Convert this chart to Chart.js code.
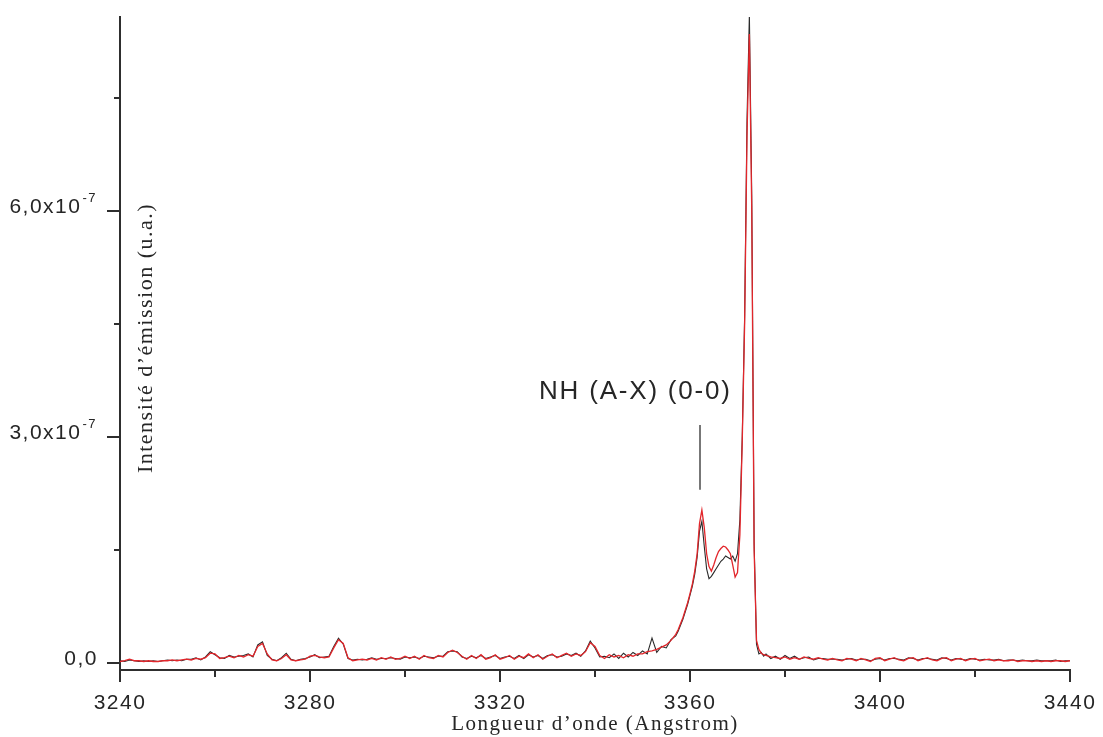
<!DOCTYPE html>
<html>
<head>
<meta charset="utf-8">
<script src="https://cdn.jsdelivr.net/npm/chart.js@4/dist/chart.umd.min.js"></script>
<style>
  html, body { margin: 0; padding: 0; background: #fff; }
  #wrap { width: 1103px; height: 737px; }
</style>
</head>
<body>
<div id="wrap"><canvas id="chart" width="1103" height="737"></canvas></div>
<script>
// wavelength (Angstrom), 1 A steps, 0.5 A across the band head
const wavelengths = [
  3240, 3241, 3242, 3243, 3244, 3245, 3246, 3247, 3248, 3249,
  3250, 3251, 3252, 3253, 3254, 3255, 3256, 3257, 3258, 3259,
  3260, 3261, 3262, 3263, 3264, 3265, 3266, 3267, 3268, 3269,
  3270, 3271, 3272, 3273, 3274, 3275, 3276, 3277, 3278, 3279,
  3280, 3281, 3282, 3283, 3284, 3285, 3286, 3287, 3288, 3289,
  3290, 3291, 3292, 3293, 3294, 3295, 3296, 3297, 3298, 3299,
  3300, 3301, 3302, 3303, 3304, 3305, 3306, 3307, 3308, 3309,
  3310, 3311, 3312, 3313, 3314, 3315, 3316, 3317, 3318, 3319,
  3320, 3321, 3322, 3323, 3324, 3325, 3326, 3327, 3328, 3329,
  3330, 3331, 3332, 3333, 3334, 3335, 3336, 3337, 3338, 3339,
  3340, 3341, 3342, 3343, 3344, 3345, 3346, 3347, 3348, 3349,
  3350, 3351, 3352, 3353, 3354, 3355, 3356, 3357,
  3357.5, 3358, 3358.5, 3359, 3359.5, 3360, 3360.5, 3361, 3361.5, 3362,
  3362.5, 3363, 3363.5, 3364, 3364.5, 3365, 3365.5, 3366, 3366.5, 3367,
  3367.5, 3368, 3368.5, 3369, 3369.5, 3370, 3370.5, 3371, 3371.5, 3372,
  3372.5, 3373, 3373.5, 3374, 3374.5, 3375, 3375.5, 3376,
  3377, 3378, 3379,
  3380, 3381, 3382, 3383, 3384, 3385, 3386, 3387, 3388, 3389,
  3390, 3391, 3392, 3393, 3394, 3395, 3396, 3397, 3398, 3399,
  3400, 3401, 3402, 3403, 3404, 3405, 3406, 3407, 3408, 3409,
  3410, 3411, 3412, 3413, 3414, 3415, 3416, 3417, 3418, 3419,
  3420, 3421, 3422, 3423, 3424, 3425, 3426, 3427, 3428, 3429,
  3430, 3431, 3432, 3433, 3434, 3435, 3436, 3437, 3438, 3439,
  3440
]

// intensities in units of 1e-7 (u.a.)
const redSpectrum = [
  0.02, 0.03, 0.05, 0.03, 0.03, 0.02, 0.03, 0.02, 0.02, 0.03,
  0.03, 0.04, 0.03, 0.04, 0.05, 0.04, 0.06, 0.05, 0.07, 0.13,
  0.12, 0.06, 0.07, 0.09, 0.07, 0.10, 0.08, 0.11, 0.09, 0.22,
  0.26, 0.12, 0.04, 0.03, 0.06, 0.11, 0.04, 0.03, 0.04, 0.05,
  0.09, 0.10, 0.08, 0.07, 0.08, 0.20, 0.31, 0.26, 0.07, 0.03,
  0.04, 0.05, 0.04, 0.06, 0.04, 0.07, 0.05, 0.08, 0.05, 0.06,
  0.09, 0.06, 0.09, 0.05, 0.10, 0.07, 0.06, 0.10, 0.08, 0.14,
  0.17, 0.14, 0.09, 0.05, 0.10, 0.06, 0.11, 0.05, 0.07, 0.11,
  0.05, 0.07, 0.10, 0.05, 0.09, 0.07, 0.12, 0.07, 0.11, 0.05,
  0.09, 0.12, 0.07, 0.10, 0.13, 0.09, 0.12, 0.10, 0.15, 0.27,
  0.22, 0.10, 0.06, 0.11, 0.08, 0.10, 0.07, 0.11, 0.09, 0.12,
  0.12, 0.15, 0.16, 0.18, 0.21, 0.24, 0.30, 0.38,
  0.44, 0.52, 0.60, 0.70, 0.80, 0.92, 1.05, 1.22, 1.45, 1.85,
  2.03, 1.80, 1.45, 1.28, 1.22, 1.30, 1.40, 1.48, 1.52, 1.55,
  1.54, 1.50, 1.45, 1.30, 1.14, 1.20, 1.70, 2.95, 4.50, 7.00,
  8.35, 6.00, 1.50, 0.30, 0.18, 0.13, 0.11, 0.10,
  0.08, 0.07, 0.06,
  0.08, 0.05, 0.07, 0.05, 0.08, 0.06, 0.05, 0.07, 0.05, 0.04,
  0.06, 0.04, 0.03, 0.06, 0.05, 0.03, 0.06, 0.04, 0.02, 0.06,
  0.07, 0.03, 0.05, 0.07, 0.04, 0.03, 0.06, 0.07, 0.03, 0.05,
  0.07, 0.04, 0.03, 0.06, 0.07, 0.03, 0.05, 0.06, 0.03, 0.05,
  0.06, 0.03, 0.04, 0.05, 0.03, 0.04, 0.03, 0.03, 0.04, 0.02,
  0.03, 0.03, 0.02, 0.03, 0.02, 0.03, 0.02, 0.03, 0.03, 0.02,
  0.03
]

const blackSpectrum = [
  0.03, 0.02, 0.04, 0.03, 0.02, 0.03, 0.02, 0.03, 0.02, 0.03,
  0.04, 0.03, 0.04, 0.03, 0.05, 0.05, 0.07, 0.04, 0.08, 0.15,
  0.11, 0.07, 0.06, 0.10, 0.08, 0.09, 0.10, 0.12, 0.08, 0.24,
  0.28, 0.10, 0.05, 0.03, 0.07, 0.13, 0.05, 0.03, 0.05, 0.06,
  0.08, 0.11, 0.07, 0.08, 0.09, 0.22, 0.33, 0.25, 0.06, 0.04,
  0.05, 0.04, 0.05, 0.07, 0.05, 0.06, 0.06, 0.07, 0.06, 0.05,
  0.08, 0.07, 0.08, 0.06, 0.09, 0.08, 0.07, 0.09, 0.09, 0.15,
  0.16, 0.15, 0.08, 0.06, 0.09, 0.07, 0.10, 0.06, 0.08, 0.10,
  0.06, 0.08, 0.09, 0.06, 0.10, 0.06, 0.11, 0.08, 0.10, 0.06,
  0.10, 0.11, 0.08, 0.09, 0.12, 0.10, 0.13, 0.09, 0.16, 0.29,
  0.20, 0.08, 0.09, 0.07, 0.12, 0.06, 0.13, 0.08, 0.14, 0.10,
  0.16, 0.12, 0.33, 0.14, 0.22, 0.20, 0.31, 0.36,
  0.42, 0.50, 0.58, 0.68, 0.78, 0.90, 1.02, 1.18, 1.40, 1.75,
  1.88, 1.55, 1.25, 1.12, 1.15, 1.20, 1.25, 1.30, 1.35, 1.38,
  1.42, 1.40, 1.38, 1.42, 1.35, 1.45, 1.90, 3.00, 4.60, 7.20,
  8.60, 6.20, 1.60, 0.25, 0.12, 0.14, 0.09, 0.12,
  0.06, 0.09, 0.05,
  0.10, 0.06, 0.09, 0.05, 0.07, 0.08, 0.04, 0.06, 0.06, 0.05,
  0.05, 0.05, 0.04, 0.05, 0.06, 0.04, 0.05, 0.05, 0.03, 0.05,
  0.06, 0.04, 0.06, 0.06, 0.05, 0.04, 0.07, 0.06, 0.04, 0.06,
  0.06, 0.05, 0.04, 0.07, 0.06, 0.04, 0.06, 0.05, 0.04, 0.06,
  0.05, 0.04, 0.05, 0.04, 0.04, 0.05, 0.03, 0.04, 0.04, 0.03,
  0.04, 0.03, 0.03, 0.04, 0.03, 0.03, 0.03, 0.04, 0.02, 0.03,
  0.03
]

const UNIT = 1e-7

// ticks
const xMajorTicks = [3240, 3280, 3320, 3360, 3400, 3440]
const xMinorTicks = [3260, 3300, 3340, 3380, 3420]
const yMajorTicks = [0, 3e-7, 6e-7]
const yMajorMantissa = ['0,0', '3,0x10', '6,0x10']
const yMajorExponent = ['', '-7', '-7']
const yMinorTicks = [1.5e-7, 4.5e-7, 7.5e-7]

// band label
const bandLabel = 'NH (A-X) (0-0)'
const bandMarker = { x: 3362.2, yFrom: 2.3e-7, yTo: 3.16e-7 }
const bandText = { x: 3348.5, y: 3.6e-7 }

const AXIS_COLOR = '#2e2e2e'
const TEXT_COLOR = '#262626'

// ticks, y labels, y title, band marker
const decorations = {
  id: 'decorations',
  beforeDraw(chart) {
    chart.ctx.letterSpacing = '1.5px'
  },
  afterDraw(chart) {
    const ctx = chart.ctx
    const xs = chart.scales.x
    const ys = chart.scales.y
    const area = chart.chartArea
    ctx.save()
    ctx.strokeStyle = AXIS_COLOR
    ctx.lineWidth = 2
    ctx.beginPath()
    xMajorTicks.forEach(v => {
      const px = Math.round(xs.getPixelForValue(v))
      ctx.moveTo(px, area.bottom); ctx.lineTo(px, area.bottom + 12)
    })
    xMinorTicks.forEach(v => {
      const px = Math.round(xs.getPixelForValue(v))
      ctx.moveTo(px, area.bottom); ctx.lineTo(px, area.bottom + 7)
    })
    yMajorTicks.forEach(v => {
      const py = Math.round(ys.getPixelForValue(v))
      ctx.moveTo(area.left, py); ctx.lineTo(area.left - 13, py)
    })
    yMinorTicks.forEach(v => {
      const py = Math.round(ys.getPixelForValue(v))
      ctx.moveTo(area.left, py); ctx.lineTo(area.left - 6, py)
    })
    ctx.stroke()

    // y tick labels with superscript exponent
    ctx.fillStyle = TEXT_COLOR
    ctx.textBaseline = 'middle'
    ctx.letterSpacing = '1.5px'
    yMajorTicks.forEach((v, i) => {
      const py = ys.getPixelForValue(v) - 4
      let right = area.left - 23
      ctx.textAlign = 'right'
      if (yMajorExponent[i]) {
        ctx.font = '13px "Liberation Sans"'
        ctx.fillText(yMajorExponent[i], right, py - 9)
        right -= ctx.measureText(yMajorExponent[i]).width + 1
      } else {
        right += 1
      }
      ctx.font = '21px "Liberation Sans"'
      ctx.fillText(yMajorMantissa[i], right, py)
    })

    // y axis title, drawn inside the plot
    ctx.save()
    ctx.translate(area.left + 26, (ys.getPixelForValue(6e-7) + ys.getPixelForValue(0)) / 2 - 99)
    ctx.rotate(-Math.PI / 2)
    ctx.textAlign = 'center'
    ctx.font = '22px "Liberation Serif"'
    ctx.fillStyle = TEXT_COLOR
    ctx.letterSpacing = '1.5px'
    ctx.fillText('Intensité d’émission (u.a.)', 0, 0)
    ctx.restore()

    // band marker
    ctx.strokeStyle = '#777'
    ctx.lineWidth = 2
    ctx.beginPath()
    const mx = Math.round(xs.getPixelForValue(bandMarker.x))
    ctx.moveTo(mx, ys.getPixelForValue(bandMarker.yTo))
    ctx.lineTo(mx, ys.getPixelForValue(bandMarker.yFrom))
    ctx.stroke()

    ctx.fillStyle = TEXT_COLOR
    ctx.font = '26px "Liberation Sans"'
    ctx.letterSpacing = '1.8px'
    ctx.textAlign = 'center'
    ctx.fillText(bandLabel, xs.getPixelForValue(bandText.x), ys.getPixelForValue(bandText.y))
    ctx.restore()
  }
}

const chart = document.querySelector('#chart').getContext('2d')

new Chart(chart, {
  type: 'line',
  data: {
    datasets: [
      {
        label: 'red',
        data: wavelengths.map((w, i) => ({ x: w, y: redSpectrum[i] * UNIT })),
        borderColor: '#e2262b',
        borderWidth: 1.3
      },
      {
        label: 'black',
        data: wavelengths.map((w, i) => ({ x: w, y: blackSpectrum[i] * UNIT })),
        borderColor: '#2b2b2b',
        borderWidth: 1.1
      }
    ]
  },
  options: {
    responsive: false,
    animation: false,
    devicePixelRatio: 1,
    layout: { padding: { top: 17, right: 33, left: 0, bottom: 0 } },
    elements: { point: { radius: 0 }, line: { tension: 0 } },
    plugins: { legend: { display: false }, tooltip: { enabled: false } },
    scales: {
      x: {
        type: 'linear',
        min: 3240,
        max: 3440,
        afterFit: s => {
          s.height = 67
          s.paddingLeft = 0
          s.paddingRight = 0
        },
        grid: { display: false, drawTicks: false },
        border: { display: true, color: AXIS_COLOR, width: 2 },
        ticks: {
          stepSize: 20,
          autoSkip: false,
          maxRotation: 0,
          padding: 21,
          color: TEXT_COLOR,
          font: { family: 'Liberation Sans', size: 21 },
          callback: v => xMajorTicks.includes(v) ? String(v) : ''
        },
        title: {
          display: true,
          text: 'Longueur d’onde (Angstrom)',
          color: TEXT_COLOR,
          font: { family: 'Liberation Serif', size: 21 },
          padding: { top: 0, bottom: 0 }
        }
      },
      y: {
        min: -0.093e-7,
        max: 8.575e-7,
        afterFit: s => {
          s.width = 120
          s.paddingTop = 0
          s.paddingBottom = 0
        },
        grid: { display: false, drawTicks: false },
        border: { display: true, color: AXIS_COLOR, width: 2 },
        ticks: { display: false }
      }
    }
  },
  plugins: [decorations]
})
</script>
</body>
</html>
